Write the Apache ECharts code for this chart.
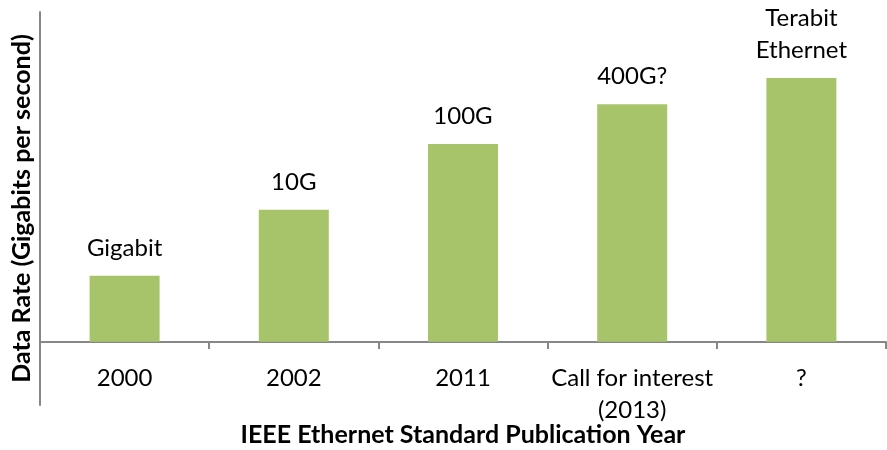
<!DOCTYPE html>
<html><head><meta charset="utf-8">
<script src="https://cdn.jsdelivr.net/npm/echarts@6/dist/echarts.min.js"></script>
<style>html,body{margin:0;padding:0;background:#fff}#c{width:887px;height:450px}</style>
</head><body><div id="c"></div>
<script>
const categories = ["2000", "2002", "2011", "Call for interest\n(2013)", "?"];
const dataRates = [1, 10, 100, 400, 1000];
const barLabels = ["Gigabit", "10G", "100G", "400G?", "Terabit\nEthernet"];
const yTitle = "Data Rate (Gigabits per second)";
const xTitle = "IEEE Ethernet Standard Publication Year";

const FONT = "Lato";
const chart = echarts.init(document.getElementById('c'), null, {renderer: 'canvas'});
chart.setOption({
  animation: false,
  grid: {left: 40, right: 1, top: 12, bottom: 45, containLabel: false, outerBoundsMode: 'none'},
  xAxis: {
    type: 'category',
    data: categories,
    offset: -63,
    axisLine: {lineStyle: {color: '#878787', width: 2}},
    axisTick: {show: true, length: 7, lineStyle: {color: '#878787', width: 2}},
    axisLabel: {interval: 0, color: '#000', fontFamily: FONT, fontSize: 24, lineHeight: 32, margin: 20},
    name: xTitle,
    nameLocation: 'middle',
    nameGap: 80,
    nameMoveOverlap: false,
    nameTextStyle: {color: '#000', fontFamily: FONT, fontWeight: 'bold', fontSize: 25, verticalAlign: 'top'}
  },
  yAxis: {
    type: 'log',
    min: 0.011,
    max: 10000,
    startValue: 0.1,
    axisLine: {show: true, lineStyle: {color: '#878787', width: 2}},
    axisTick: {show: false},
    axisLabel: {show: false},
    splitLine: {show: false},
    name: yTitle,
    nameLocation: 'middle',
    nameRotate: 90,
    nameGap: 6,
    nameMoveOverlap: false,
    nameTextStyle: {color: '#000', fontFamily: FONT, fontWeight: 'bold', fontSize: 25}
  },
  series: [{
    type: 'bar',
    data: dataRates,
    barWidth: 70,
    itemStyle: {color: '#A8C46A'},
    label: {
      show: true,
      position: 'top',
      distance: 12,
      color: '#000',
      fontFamily: FONT,
      fontSize: 24,
      lineHeight: 32,
      formatter: p => barLabels[p.dataIndex]
    }
  }]
});
</script></body></html>
